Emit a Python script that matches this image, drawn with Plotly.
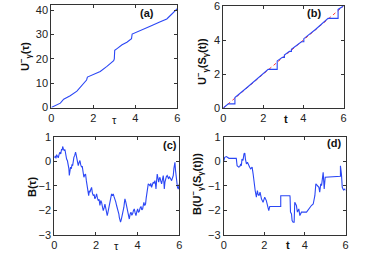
import plotly.graph_objects as go

# ---- data ----
a_tau = [0, 0.2, 0.4, 0.43, 0.59, 0.9, 1.22, 1.46, 1.68, 1.72, 2.0, 2.33, 2.65, 2.97, 3.0, 3.02,
         3.13, 3.37, 3.6, 3.76, 3.82, 3.85, 4.24, 4.71, 5.19, 5.5, 5.67, 5.83, 6.0]
a_U = [0, 0.9, 1.5, 1.8, 3.4, 4.8, 6.7, 8.9, 11.3, 12.5, 13.5, 14.8, 16.9, 19.2, 20.0, 23.5,
       24.2, 25.8, 26.8, 27.9, 28.3, 30.2, 31.8, 33.4, 35.2, 36.4, 37.8, 39.2, 40.6]

b_t = [0, 0.25, 0.58, 0.58, 1.2, 2.24, 2.69, 2.69, 2.95, 3.05, 3.05, 3.3, 3.4, 3.4, 3.9, 4.02,
       4.02, 4.6, 5.23, 5.73, 5.73, 6.0]
b_U = [0, 0.24, 0.24, 0.62, 1.22, 2.27, 2.27, 2.77, 2.98, 2.98, 3.12, 3.33, 3.33, 3.45, 3.9, 3.9,
       4.08, 4.62, 5.27, 5.27, 5.8, 6.0]
b_ref_t = [0, 6]
b_ref_U = [0, 6]

c_tau = [0.00, 0.04, 0.08, 0.11, 0.15, 0.19, 0.23, 0.27, 0.31, 0.35, 0.38, 0.40, 0.44, 0.48, 0.51,
         0.54, 0.57, 0.59, 0.63, 0.67, 0.70, 0.72, 0.75, 0.78, 0.82, 0.85, 0.88, 0.91, 0.94, 0.98,
         1.02, 1.04, 1.07, 1.11, 1.15, 1.19, 1.23, 1.27, 1.31, 1.34, 1.36, 1.39, 1.42, 1.46, 1.50,
         1.54, 1.58, 1.61, 1.65, 1.68, 1.71, 1.75, 1.79, 1.83, 1.87, 1.91, 1.95, 1.99, 2.03, 2.07,
         2.11, 2.15, 2.19, 2.23, 2.27, 2.31, 2.35, 2.39, 2.43, 2.48, 2.51, 2.54, 2.57, 2.59, 2.63,
         2.67, 2.71, 2.75, 2.79, 2.83, 2.87, 2.91, 2.95, 2.99, 3.03, 3.07, 3.10, 3.12, 3.15, 3.18,
         3.22, 3.26, 3.30, 3.34, 3.37, 3.39, 3.43, 3.47, 3.51, 3.55, 3.58, 3.60, 3.64, 3.68, 3.72,
         3.76, 3.80, 3.84, 3.88, 3.92, 3.96, 4.00, 4.04, 4.08, 4.12, 4.16, 4.20, 4.24, 4.27, 4.30,
         4.34, 4.38, 4.41, 4.43, 4.47, 4.51, 4.55, 4.59, 4.63, 4.67, 4.71, 4.75, 4.79, 4.83, 4.86,
         4.88, 4.91, 4.94, 4.98, 5.01, 5.04, 5.07, 5.11, 5.15, 5.19, 5.23, 5.26, 5.28, 5.31, 5.34,
         5.38, 5.42, 5.46, 5.49, 5.52, 5.55, 5.59, 5.63, 5.67, 5.71, 5.74, 5.76, 5.79, 5.82, 5.85,
         5.87, 5.91, 5.95, 5.98, 6.00]
c_B = [0.14, 0.22, 0.12, 0.27, 0.20, 0.14, 0.28, 0.37, 0.30, 0.50, 0.45, 0.60, 0.50, 0.43, 0.48,
       0.30, 0.22, 0.09, 0.02, -0.11, -0.30, -0.58, -0.35, -0.24, -0.30, -0.12, -0.18, 0.02, 0.16, 0.24,
       0.37, 0.30, 0.16, 0.05, -0.18, -0.05, 0.03, -0.15, -0.24, -0.20, -0.38, -0.45, -0.65, -0.55, -0.52,
       -0.80, -1.06, -1.25, -1.40, -1.20, -1.26, -1.15, -1.06, -1.30, -1.40, -1.35, -1.53, -1.45, -1.33, -1.50,
       -1.60, -1.55, -1.80, -1.60, -1.67, -1.85, -2.01, -1.90, -1.74, -1.95, -2.05, -2.21, -2.10, -2.01, -1.75,
       -1.53, -1.45, -1.33, -1.40, -1.33, -1.45, -1.53, -1.65, -1.80, -1.90, -2.01, -2.15, -2.28, -2.40, -2.48,
       -2.35, -2.21, -2.00, -1.87, -1.65, -1.53, -1.65, -1.80, -2.00, -2.14, -2.25, -2.35, -2.15, -2.07, -2.20,
       -2.14, -2.00, -1.94, -2.10, -2.21, -2.05, -1.94, -2.08, -2.03, -1.90, -1.84, -1.98, -1.94, -1.80, -1.67,
       -1.80, -1.74, -1.50, -1.33, -1.10, -0.92, -0.95, -0.99, -0.90, -1.06, -0.95, -0.85, -0.90, -0.79, -0.95,
       -1.13, -0.80, -0.52, -0.70, -0.85, -0.72, -0.65, -0.80, -0.92, -0.75, -0.58, -0.85, -1.13, -0.85, -0.65,
       -0.62, -0.58, -0.68, -0.72, -0.62, -0.65, -0.72, -0.79, -0.68, -0.58, -0.30, -0.11, -0.04, -0.38, -0.70,
       -0.99, -1.05, -1.13, -0.95, -0.92]

d_t = [0, 0.05, 0.13, 0.21, 0.26, 0.62, 0.66, 0.74, 0.79, 0.84, 0.87, 0.90, 0.95, 1.00, 1.04,
       1.07, 1.12, 1.17, 1.23, 1.28, 1.33, 1.40, 1.45, 1.50, 1.55, 1.61, 1.66, 1.69, 1.74, 1.79,
       1.86, 1.94, 2.02, 2.10, 2.15, 2.22, 2.27, 2.81, 2.81, 3.26, 3.27, 3.29, 3.34, 3.37, 3.42,
       3.47, 3.50, 3.58, 3.63, 3.70, 3.75, 3.80, 3.83, 4.08, 4.13, 4.21, 4.32, 4.41, 4.49, 4.54,
       4.62, 4.69, 4.73, 4.78, 4.82, 4.90, 4.95, 5.00, 5.75, 5.75, 5.80, 5.84, 5.90, 5.97, 6.00]
d_B = [0, 0.16, 0.19, 0.16, 0.12, 0.12, -0.18, -0.24, -0.22, -0.11, -0.18, 0.09, 0.03, 0.30, 0.33,
       0.09, -0.11, -0.04, -0.18, -0.24, -0.31, -0.24, -0.52, -0.99, -1.19, -1.46, -1.19, -1.33, -1.40, -1.26,
       -1.53, -1.67, -1.46, -1.60, -1.80, -2.01, -1.84, -1.84, -1.40, -1.40, -1.46, -2.07, -2.14, -2.41, -2.48,
       -2.48, -1.67, -1.80, -2.07, -1.94, -2.21, -2.14, -2.07, -2.07, -2.01, -1.94, -1.80, -1.74, -1.40, -0.92,
       -0.99, -1.06, -1.26, -0.92, -0.99, -0.45, -1.13, -0.65, -0.61, -0.18, -0.52, -1.06, -1.17, -1.13, -1.19]

x_ticks = [0, 2, 4, 6]
a_yticks = [0, 10, 20, 30, 40]
b_yticks = [0, 2, 4, 6]
cd_yticks = [-3, -2, -1, 0, 1]

# ---- figure ----
W, H = 391, 268
BLUE = "#2b47f5"
FONT = "Liberation Sans"

def dom_x(l, r):
    return [l / W, r / W]

def dom_y(t, b):
    return [1 - b / H, 1 - t / H]

fig = go.Figure()
fig.add_trace(go.Scatter(x=a_tau, y=a_U, mode="lines", line=dict(color=BLUE, width=1.1),
                         xaxis="x", yaxis="y", showlegend=False))
fig.add_trace(go.Scatter(x=b_ref_t, y=b_ref_U, mode="lines", line=dict(color="#ff3030", width=1, dash="dot"),
                         xaxis="x2", yaxis="y2", showlegend=False))
fig.add_trace(go.Scatter(x=b_t, y=b_U, mode="lines", line=dict(color=BLUE, width=1.1),
                         xaxis="x2", yaxis="y2", showlegend=False))
fig.add_trace(go.Scatter(x=c_tau, y=c_B, mode="lines", line=dict(color=BLUE, width=1.1),
                         xaxis="x3", yaxis="y3", showlegend=False))
fig.add_trace(go.Scatter(x=d_t, y=d_B, mode="lines", line=dict(color=BLUE, width=1.1),
                         xaxis="x4", yaxis="y4", showlegend=False))

ax_common = dict(showgrid=False, zeroline=False, showline=True, linecolor="#333", linewidth=1,
                 mirror="ticks", ticks="inside", ticklen=3, tickcolor="#333", automargin=False,
                 ticklabeloverflow="allow",
                 tickfont=dict(family=FONT, size=11, color="#222"))

doms = {
    "": (dom_x(51.3, 177.3), dom_y(5.3, 107.5), [0, 42], a_yticks),
    "2": (dom_x(223.3, 343.5), dom_y(6, 108), [0, 6.001], b_yticks),
    "3": (dom_x(54.3, 179.3), dom_y(136.7, 235), [-3, 1], cd_yticks),
    "4": (dom_x(223.7, 345.5), dom_y(136.7, 235), [-3, 1], cd_yticks),
}
lay = {}
for k, (dx, dy, yr, yt) in doms.items():
    lay["xaxis" + k] = dict(ax_common, domain=dx, range=[0, 6], tickvals=x_ticks,
                            anchor="y" + k)
    lay["yaxis" + k] = dict(ax_common, domain=dy, range=yr, tickvals=yt, anchor="x" + k)

fig.update_layout(width=W, height=H, margin=dict(l=0, r=0, t=0, b=0, autoexpand=False),
                  plot_bgcolor="white", paper_bgcolor="white", **lay)

def ann(text, x, y, angle=0, size=11, bold=False):
    fig.add_annotation(text=("<b>%s</b>" % text) if bold else text, x=x / W, y=1 - y / H,
                       xref="paper", yref="paper", showarrow=False, textangle=angle,
                       font=dict(family=FONT, size=size, color="#111"),
                       xanchor="center", yanchor="middle")

# panel labels
ann("(a)", 147, 13, bold=True)
ann("(b)", 314, 13, bold=True)
ann("(c)", 170, 145, bold=True)
ann("(d)", 334, 143, bold=True)
# x titles
ann("τ", 114, 120)
ann("t", 286, 119, bold=True)
ann("τ", 116, 246)
ann("t", 288, 245, bold=True)
# y titles
ann("U<sup>−</sup><sub>γ</sub>(τ)", 25, 57, angle=-90, bold=True)
ann("U<sup>−</sup><sub>γ</sub>(S<sub>γ</sub>(t))", 202, 62, angle=-90, bold=True)
ann("B(τ)", 32, 187, angle=-90, bold=True)
ann("B(U<sup>−</sup><sub>γ</sub>(S<sub>γ</sub>(t)))", 197, 184, angle=-90, bold=True)

fig.write_html("out.html", config={"displayModeBar": False},
               post_script="document.body.style.margin='0';document.body.style.overflow='hidden';")
